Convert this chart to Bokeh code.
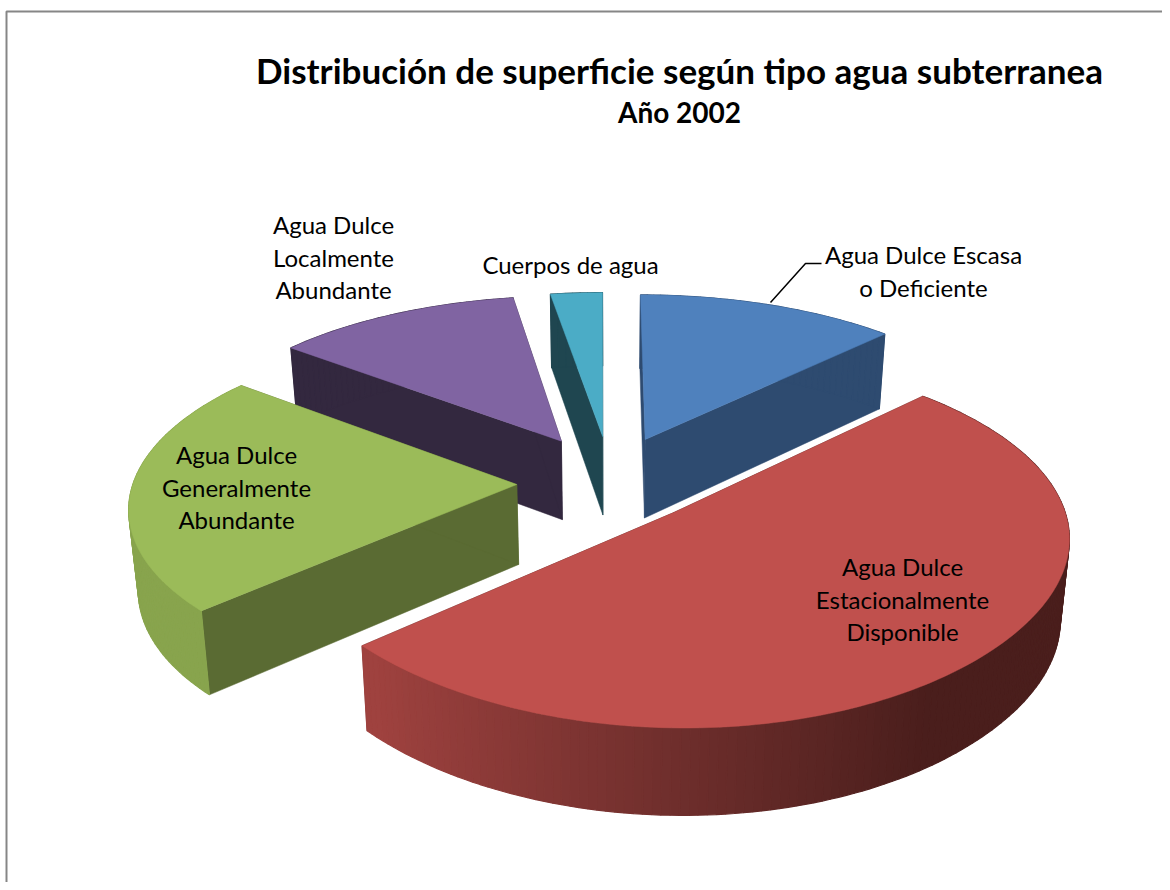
import math
from bokeh.plotting import figure
from bokeh.embed import file_html
from bokeh.resources import INLINE
from bokeh.core.properties import value

# ---- data (share of surface, %), clockwise from 12 o'clock
categories = ["Agua Dulce Escasa o Deficiente", "Agua Dulce Estacionalmente Disponible",
              "Agua Dulce Generalmente Abundante", "Agua Dulce Localmente Abundante", "Cuerpos de agua"]
shares = [12.5, 50.7, 22.4, 11.9, 2.5]

title_text = "Distribución de superficie según tipo agua subterranea"
subtitle_text = "Año 2002"

# ---- style
top_colors = ["#4F81BD", "#C0504D", "#9BBB59", "#8064A2", "#4BACC6"]
face_colors = ["#2E4B70", "#4A1E1C", "#5A6B33", "#33283F", "#1F4650"]
rim_left = [(0x2E, 0x4B, 0x70), (0x9F, 0x42, 0x3F), (0x88, 0xA4, 0x4D), (0x33, 0x28, 0x3F), (0x1F, 0x46, 0x50)]
rim_mid = [(0x2E, 0x4B, 0x70), (0x6E, 0x2E, 0x2C), (0x7C, 0x98, 0x47), (0x33, 0x28, 0x3F), (0x1F, 0x46, 0x50)]
rim_right = [(0x2E, 0x4B, 0x70), (0x4A, 0x1E, 0x1C), (0x5A, 0x6B, 0x33), (0x33, 0x28, 0x3F), (0x1F, 0x46, 0x50)]
explode_x = [0.12, 0.187, -0.218, -0.105, 0.006]
explode_y = [0.27, -0.16, 0.0, 0.26, 0.288]
bulge = [0.0, 0.05, 0.0, 0.0, 0.0]
paint_order = [4, 3, 0, 2, 1]

# projection constants (page pixels)
CX, CY, AX, BY, K, DEPTH = 600.0, 484.0, 384.0, 172.0, 0.12, 80.0


def project(X, Y):
    s = 1.0 / (1.0 + K * Y)
    return CX + AX * X * s, CY - BY * Y * s


def drop(X, Y):
    x, y = project(X, Y)
    d = DEPTH / (1.0 + 0.07 * Y)
    return 610 + (x - 610) * 0.98, y + d


def lerp(a, b, t):
    return tuple(int(round(a[i] + (b[i] - a[i]) * t)) for i in range(3))


def rim_color(i, th):
    u = math.sin(th)
    if u < 0:
        c = lerp(rim_mid[i], rim_left[i], min(1.0, -u / 0.7))
    else:
        c = lerp(rim_mid[i], rim_right[i], min(1.0, u / 0.55))
    return "#%02x%02x%02x" % c


p = figure(width=1162, height=882, x_range=(0, 1162), y_range=(882, 0),
           output_backend="svg", toolbar_location=None, min_border=0,
           background_fill_color="white", border_fill_color="white", outline_line_color=None)
p.axis.visible = False
p.grid.visible = False

# chart-area frame: only top and left edges show
p.line([6, 6, 1162], [882, 11, 11], line_color="#868686", line_width=2)

# slice angles come from the shares
total = sum(shares)
starts, ends, acc = [], [], 0.0
for v in shares:
    starts.append(acc / total * 2 * math.pi)
    acc += v
    ends.append(acc / total * 2 * math.pi)

for i in paint_order:
    ex, ey = explode_x[i], explode_y[i]
    a0, a1 = starts[i], ends[i]
    n = max(6, int((a1 - a0) / 0.02))
    ths = [a0 + (a1 - a0) * j / n for j in range(n + 1)]
    rad = [1.0 + bulge[i] * max(0.0, -math.cos(t)) ** 4 for t in ths]
    pts = [(ex + r * math.sin(t), ey + r * math.cos(t)) for t, r in zip(ths, rad)]
    apex = (ex, ey)
    # cut faces
    for e in (pts[0], pts[-1]):
        xs = [project(*apex)[0], project(*e)[0], drop(*e)[0], drop(*apex)[0]]
        ys = [project(*apex)[1], project(*e)[1], drop(*e)[1], drop(*apex)[1]]
        p.patch(xs, ys, fill_color=face_colors[i], line_color=face_colors[i], line_width=0.5)
    # outer wall as strips with a shade that changes along the rim
    sx, sy, sc = [], [], []
    for j in range(n):
        A, B = pts[j], pts[j + 1]
        sx.append([project(*A)[0], project(*B)[0], drop(*B)[0], drop(*A)[0]])
        sy.append([project(*A)[1], project(*B)[1], drop(*B)[1], drop(*A)[1]])
        sc.append(rim_color(i, ths[j]))
    p.patches(sx, sy, fill_color=sc, line_color=sc, line_width=1.2)
    # top surface
    outline = [apex] + pts
    p.patch([project(*q)[0] for q in outline], [project(*q)[1] for q in outline],
            fill_color=top_colors[i], line_color=top_colors[i], line_width=0.5)

# leader line of the first label
p.line([770, 805, 821], [302, 263, 263], line_color="black", line_width=1.5)

FONT = value("Lato")
label_lines = [["Agua Dulce Escasa", "o Deficiente"], ["Agua Dulce", "Estacionalmente", "Disponible"],
               ["Agua Dulce", "Generalmente", "Abundante"], ["Agua Dulce", "Localmente", "Abundante"],
               ["Cuerpos de agua"]]
label_x = [923, 902, 236, 333, 570]
label_y = [254, 566, 454, 224, 264]
for txt, lx, ly in zip(label_lines, label_x, label_y):
    for k, line in enumerate(txt):
        p.text([lx], [ly + k * 32.7], text=[line], text_font=FONT, text_font_size="24px",
               text_align="center", text_baseline="middle", text_color="black")

p.text([679], [69], text=[title_text], text_font=FONT, text_font_style="bold", text_font_size="35px",
       text_align="center", text_baseline="middle", text_color="black")
p.text([679], [111], text=[subtitle_text], text_font=FONT, text_font_style="bold", text_font_size="28px",
       text_align="center", text_baseline="middle", text_color="black")

open("out.html", "w").write(file_html(p, INLINE))
